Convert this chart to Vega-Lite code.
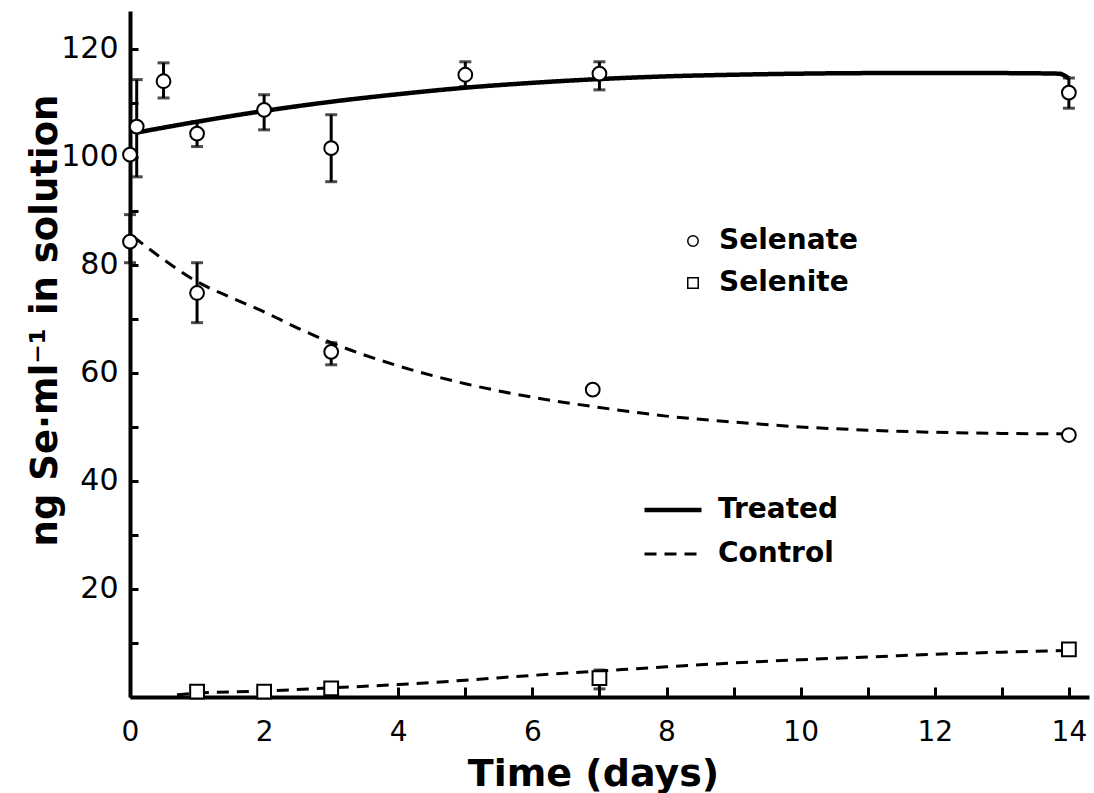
{
  "$schema": "https://vega.github.io/schema/vega-lite/v6.json",
  "width": 959,
  "height": 686,
  "autosize": {"type": "none"},
  "padding": {"left": 130, "top": 11, "right": 5, "bottom": 96},
  "background": "white",
  "config": {"view": {"stroke": null}, "font": "DejaVu Sans"},
  "datasets": {
    "curves": [
      {"day": 0.1, "value": 104.5, "series": "Treated selenate", "treatment": "Treated"},
      {"day": 1, "value": 106.5, "series": "Treated selenate", "treatment": "Treated"},
      {"day": 2, "value": 108.5, "series": "Treated selenate", "treatment": "Treated"},
      {"day": 3, "value": 110.2, "series": "Treated selenate", "treatment": "Treated"},
      {"day": 4, "value": 111.6, "series": "Treated selenate", "treatment": "Treated"},
      {"day": 5, "value": 112.8, "series": "Treated selenate", "treatment": "Treated"},
      {"day": 6, "value": 113.7, "series": "Treated selenate", "treatment": "Treated"},
      {"day": 7, "value": 114.4, "series": "Treated selenate", "treatment": "Treated"},
      {"day": 8, "value": 114.9, "series": "Treated selenate", "treatment": "Treated"},
      {"day": 9, "value": 115.2, "series": "Treated selenate", "treatment": "Treated"},
      {"day": 10, "value": 115.4, "series": "Treated selenate", "treatment": "Treated"},
      {"day": 11, "value": 115.5, "series": "Treated selenate", "treatment": "Treated"},
      {"day": 12, "value": 115.5, "series": "Treated selenate", "treatment": "Treated"},
      {"day": 13, "value": 115.5, "series": "Treated selenate", "treatment": "Treated"},
      {"day": 13.85, "value": 115.4, "series": "Treated selenate", "treatment": "Treated"},
      {"day": 14, "value": 114.5, "series": "Treated selenate", "treatment": "Treated"},
      {"day": 0.05, "value": 85.2, "series": "Control selenate", "treatment": "Control"},
      {"day": 0.5, "value": 81, "series": "Control selenate", "treatment": "Control"},
      {"day": 1, "value": 76.9, "series": "Control selenate", "treatment": "Control"},
      {"day": 1.5, "value": 74, "series": "Control selenate", "treatment": "Control"},
      {"day": 2, "value": 71.3, "series": "Control selenate", "treatment": "Control"},
      {"day": 2.5, "value": 68.3, "series": "Control selenate", "treatment": "Control"},
      {"day": 3, "value": 65.6, "series": "Control selenate", "treatment": "Control"},
      {"day": 4, "value": 61.3, "series": "Control selenate", "treatment": "Control"},
      {"day": 5, "value": 58, "series": "Control selenate", "treatment": "Control"},
      {"day": 6, "value": 55.5, "series": "Control selenate", "treatment": "Control"},
      {"day": 7, "value": 53.6, "series": "Control selenate", "treatment": "Control"},
      {"day": 8, "value": 52, "series": "Control selenate", "treatment": "Control"},
      {"day": 9, "value": 50.9, "series": "Control selenate", "treatment": "Control"},
      {"day": 10, "value": 50, "series": "Control selenate", "treatment": "Control"},
      {"day": 11, "value": 49.4, "series": "Control selenate", "treatment": "Control"},
      {"day": 12, "value": 49, "series": "Control selenate", "treatment": "Control"},
      {"day": 13, "value": 48.8, "series": "Control selenate", "treatment": "Control"},
      {"day": 14, "value": 48.7, "series": "Control selenate", "treatment": "Control"},
      {"day": 0.7, "value": 0.4, "series": "Control selenite", "treatment": "Control"},
      {"day": 1, "value": 0.7, "series": "Control selenite", "treatment": "Control"},
      {"day": 2, "value": 1.1, "series": "Control selenite", "treatment": "Control"},
      {"day": 3, "value": 1.7, "series": "Control selenite", "treatment": "Control"},
      {"day": 4, "value": 2.3, "series": "Control selenite", "treatment": "Control"},
      {"day": 5, "value": 3.1, "series": "Control selenite", "treatment": "Control"},
      {"day": 6, "value": 4.0, "series": "Control selenite", "treatment": "Control"},
      {"day": 7, "value": 4.8, "series": "Control selenite", "treatment": "Control"},
      {"day": 8, "value": 5.6, "series": "Control selenite", "treatment": "Control"},
      {"day": 9, "value": 6.3, "series": "Control selenite", "treatment": "Control"},
      {"day": 10, "value": 6.9, "series": "Control selenite", "treatment": "Control"},
      {"day": 11, "value": 7.4, "series": "Control selenite", "treatment": "Control"},
      {"day": 12, "value": 7.9, "series": "Control selenite", "treatment": "Control"},
      {"day": 13, "value": 8.3, "series": "Control selenite", "treatment": "Control"},
      {"day": 14, "value": 8.6, "series": "Control selenite", "treatment": "Control"}
    ],
    "points": [
      {"day": 0, "value": 100.4, "lo": null, "hi": null, "form": "Selenate"},
      {"day": 0.1, "value": 105.6, "lo": 96.3, "hi": 114.3, "form": "Selenate"},
      {"day": 0.5, "value": 114, "lo": 110.9, "hi": 117.4, "form": "Selenate"},
      {"day": 1, "value": 104.3, "lo": 101.9, "hi": 106.5, "form": "Selenate"},
      {"day": 2, "value": 108.7, "lo": 105, "hi": 111.5, "form": "Selenate"},
      {"day": 3, "value": 101.6, "lo": 95.4, "hi": 107.8, "form": "Selenate"},
      {"day": 5, "value": 115.2, "lo": 113, "hi": 117.6, "form": "Selenate"},
      {"day": 7, "value": 115.4, "lo": 112.4, "hi": 117.6, "form": "Selenate"},
      {"day": 14, "value": 111.9, "lo": 109, "hi": 114.6, "form": "Selenate"},
      {"day": 0, "value": 84.3, "lo": 80.4, "hi": 89.3, "form": "Selenate"},
      {"day": 1, "value": 74.8, "lo": 69.3, "hi": 80.4, "form": "Selenate"},
      {"day": 3, "value": 63.9, "lo": 61.5, "hi": 65.6, "form": "Selenate"},
      {"day": 6.9, "value": 56.9, "lo": null, "hi": null, "form": "Selenate"},
      {"day": 14, "value": 48.5, "lo": null, "hi": null, "form": "Selenate"},
      {"day": 1, "value": 1.0, "lo": 0.3, "hi": 1.8, "form": "Selenite"},
      {"day": 2, "value": 1.0, "lo": 0.4, "hi": 1.6, "form": "Selenite"},
      {"day": 3, "value": 1.6, "lo": 0.8, "hi": 2.3, "form": "Selenite"},
      {"day": 7, "value": 3.5, "lo": 1.5, "hi": 5.0, "form": "Selenite"},
      {"day": 14, "value": 8.8, "lo": null, "hi": null, "form": "Selenite"}
    ]
  },
  "layer": [
    {
      "data": {"name": "curves"},
      "mark": {"type": "line", "color": "black", "interpolate": "monotone"},
      "encoding": {
        "x": {
          "field": "day", "type": "quantitative",
          "scale": {"domain": [0, 14.3], "nice": false, "zero": false},
          "axis": {
            "values": [0, 1, 2, 3, 4, 5, 6, 7, 8, 9, 10, 11, 12, 13, 14],
            "format": "d",
            "labelExpr": "datum.value % 2 === 0 ? datum.label : ''",
            "title": "Time (days)",
            "grid": false,
            "domainWidth": 4, "domainColor": "black",
            "tickColor": "black", "tickWidth": 3, "tickSize": -10,
            "labelFontSize": 28, "labelColor": "black", "labelPadding": 31,
            "labelFlush": false, "labelOverlap": false,
            "titleFontSize": 38, "titleFontWeight": "bold", "titleColor": "black",
            "titleX": 463, "titleY": 88, "titleBaseline": "alphabetic", "titleAlign": "center"
          }
        },
        "y": {
          "field": "value", "type": "quantitative",
          "scale": {"domain": [0, 127], "nice": false},
          "axis": {
            "values": [0, 10, 20, 30, 40, 50, 60, 70, 80, 90, 100, 110, 120],
            "labelExpr": "datum.value % 20 === 0 && datum.value > 0 ? datum.label : ''",
            "title": "ng Se·ml⁻¹ in solution",
            "grid": false,
            "domainWidth": 4, "domainColor": "black",
            "tickColor": "black", "tickWidth": 3, "tickSize": -8,
            "labelFontSize": 30, "labelColor": "black", "labelPadding": 20,
            "labelFlush": false, "labelOverlap": false,
            "titleFontSize": 37, "titleFontWeight": "bold", "titleColor": "black",
            "titleX": -74, "titleY": 309, "titleBaseline": "alphabetic", "titleAlign": "center", "titleAngle": -90
          }
        },
        "detail": {"field": "series"},
        "strokeDash": {
          "field": "treatment", "type": "nominal",
          "scale": {"domain": ["Treated", "Control"], "range": [[1, 0], [12, 8]]},
          "legend": {
            "orient": "none", "legendX": 512, "legendY": 468,
            "title": null, "symbolType": "stroke", "symbolSize": 3249,
            "symbolStrokeWidth": 3.5, "symbolStrokeColor": "black",
            "labelFontSize": 28, "labelFontWeight": "bold", "labelColor": "black",
            "labelOffset": 14, "rowPadding": -7
          }
        },
        "strokeWidth": {
          "field": "treatment", "type": "ordinal",
          "scale": {"domain": ["Treated", "Control"], "range": [4.5, 3]},
          "legend": null
        }
      }
    },
    {
      "data": {"name": "points"},
      "transform": [{"filter": "datum.lo != null"}],
      "mark": {"type": "rule", "color": "black", "strokeWidth": 3},
      "encoding": {
        "x": {"field": "day", "type": "quantitative"},
        "y": {"field": "lo", "type": "quantitative"},
        "y2": {"field": "hi"}
      }
    },
    {
      "data": {"name": "points"},
      "transform": [
        {"filter": "datum.lo != null"},
        {"fold": ["lo", "hi"], "as": ["end", "bound"]}
      ],
      "mark": {"type": "tick", "orient": "horizontal", "color": "black", "size": 12, "thickness": 3},
      "encoding": {
        "x": {"field": "day", "type": "quantitative"},
        "y": {"field": "bound", "type": "quantitative"}
      }
    },
    {
      "data": {"name": "points"},
      "mark": {"type": "point", "filled": true, "fill": "white", "stroke": "black", "strokeWidth": 2, "opacity": 1, "size": 190},
      "encoding": {
        "x": {"field": "day", "type": "quantitative"},
        "y": {"field": "value", "type": "quantitative"},
        "shape": {
          "field": "form", "type": "nominal",
          "scale": {"domain": ["Selenate", "Selenite"], "range": ["circle", "square"]},
          "legend": {
            "orient": "none", "legendX": 549, "legendY": 216,
            "title": null, "symbolSize": 110,
            "labelFontSize": 28, "labelFontWeight": "bold", "labelColor": "black",
            "labelOffset": 12, "rowPadding": 14,
            "encode": {
              "symbols": {
                "update": {
                  "fill": {"value": "white"},
                  "stroke": {"value": "black"},
                  "strokeWidth": {"value": 1.6},
                  "opacity": {"value": 1}
                }
              }
            }
          }
        }
      }
    }
  ]
}
